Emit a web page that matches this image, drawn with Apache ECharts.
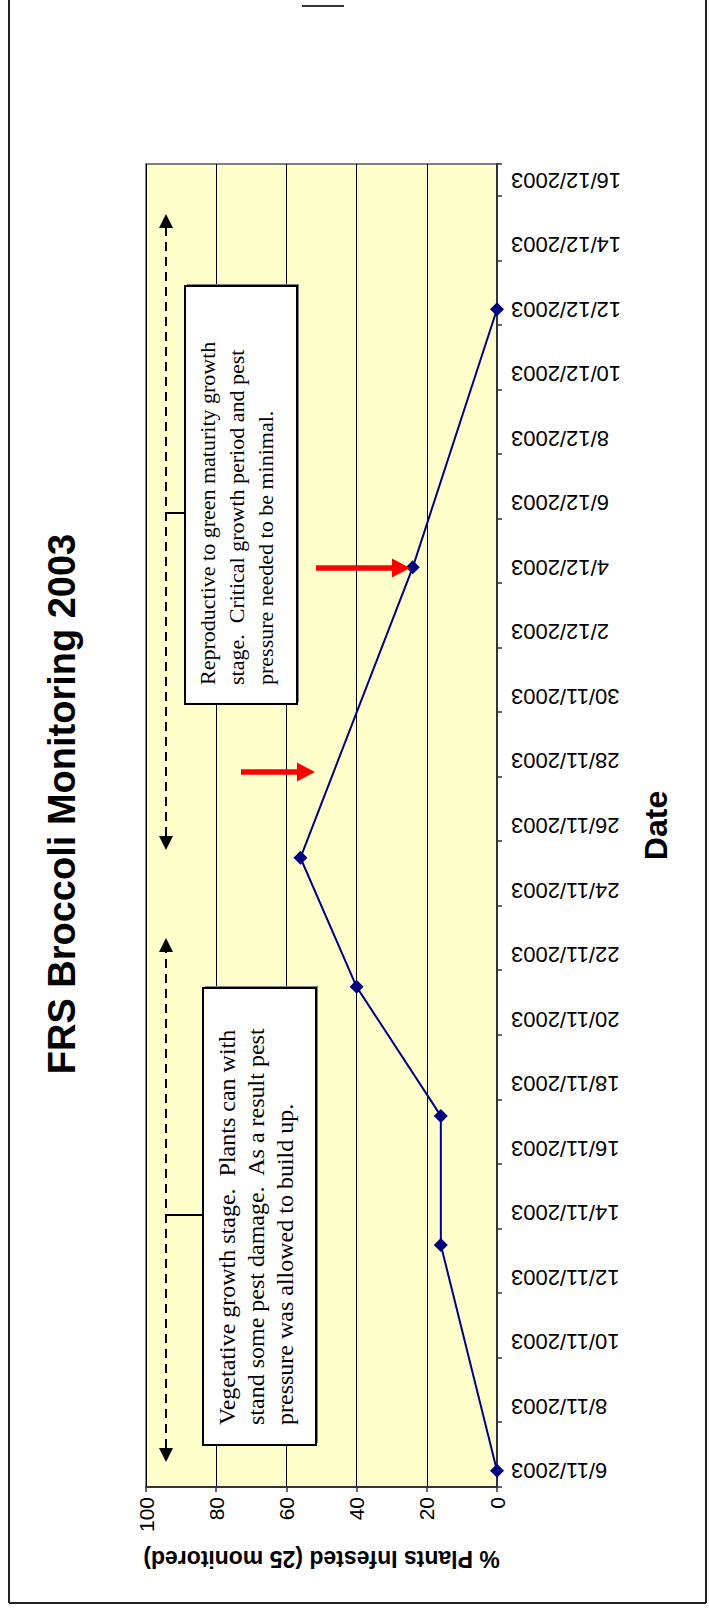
<!DOCTYPE html>
<html>
<head>
<meta charset="utf-8">
<script src="https://cdn.jsdelivr.net/npm/echarts@6/dist/echarts.min.js"></script>
<style>
html, body { margin:0; padding:0; background:#fff; }
#wrap { position:relative; width:709px; height:1608px; overflow:hidden; }
#chart { position:absolute; left:0; top:0; width:1608px; height:709px;
  transform-origin:0 0; transform: translateY(1608px) rotate(-90deg); }
</style>
</head>
<body>
<div id="wrap"><div id="chart"></div></div>
<script>
// ---- data ----
const titleText = 'FRS Broccoli Monitoring 2003';
const xAxisTitle = 'Date';
const yAxisTitle = '% Plants Infested (25 monitored)';
const axisStart = [2003, 11, 6];   // first day on date axis (6/11/2003)
const axisDays = 41;               // 6/11/2003 .. 16/12/2003
const obsDates = ['6/11/2003','13/11/2003','17/11/2003','21/11/2003','25/11/2003','4/12/2003','12/12/2003'];
const pctInfested = [0, 16, 16, 40, 56, 24, 0];
const yTicks = [0, 20, 40, 60, 80, 100];
const note1 = ['Vegetative growth stage.  Plants can with', 'stand some pest damage.  As a result pest', 'pressure was allowed to build up.'];
const note2 = ['Reproductive to green maturity growth', 'stage.  Critical growth period and pest', 'pressure needed to be minimal.'];

// date categories for the axis
const dayCats = [];
for (let i = 0; i < axisDays; i++) {
  const d = new Date(axisStart[0], axisStart[1] - 1, axisStart[2] + i);
  dayCats.push(d.getDate() + '/' + (d.getMonth() + 1) + '/' + d.getFullYear());
}
const seriesData = obsDates.map((d, i) => [d, pctInfested[i]]);

const chart = echarts.init(document.getElementById('chart'), null, { renderer: 'svg' });
const SANS = '"Liberation Sans", Arial, sans-serif';
const SERIF = '"Liberation Serif", "Times New Roman", serif';

function redArrow(x, y0, y1) {
  const head = 18, hw = 9.5, sw = 2.8;
  return { type: 'polygon', z: 50, shape: { points: [
    [x - sw, y0], [x + sw, y0], [x + sw, y1 - head], [x + hw, y1 - head], [x, y1],
    [x - hw, y1 - head], [x - sw, y1 - head]] }, style: { fill: '#FF0000' } };
}
function dashArrow(y, x0, x1) {
  const hl = 14, hw = 7;
  return [
    { type: 'line', z: 50, shape: { x1: x0 + hl, y1: y, x2: x1 - hl, y2: y },
      style: { stroke: '#000', lineWidth: 2, lineDash: [9, 6] } },
    { type: 'polygon', z: 50, shape: { points: [[x0, y], [x0 + hl, y - hw], [x0 + hl, y + hw]] }, style: { fill: '#000' } },
    { type: 'polygon', z: 50, shape: { points: [[x1, y], [x1 - hl, y - hw], [x1 - hl, y + hw]] }, style: { fill: '#000' } }
  ];
}
function noteBox(x, y, w, h, lines, tx, ty, fs) {
  return [
    { type: 'rect', z: 50, shape: { x: x + 2, y: y + 2, width: w, height: h }, style: { fill: '#808080' } },
    { type: 'rect', z: 51, shape: { x: x, y: y, width: w, height: h }, style: { fill: '#fff', stroke: '#000', lineWidth: 2 } },
    { type: 'text', z: 52, x: tx, y: ty, style: { text: lines.join('\n'), font: fs + 'px ' + SERIF, fill: '#000',
      lineHeight: 29, textAlign: 'left', textVerticalAlign: 'top' } }
  ];
}

const graphics = [].concat(
  dashArrow(166, 146, 670),
  dashArrow(166, 758, 1394),
  [{ type: 'line', z: 50, shape: { x1: 393, y1: 166, x2: 393, y2: 203 }, style: { stroke: '#000', lineWidth: 2 } },
   { type: 'line', z: 50, shape: { x1: 1095, y1: 166, x2: 1095, y2: 185 }, style: { stroke: '#000', lineWidth: 2 } }],
  noteBox(163, 203, 457, 113, note1, 183, 212, 24),
  noteBox(904, 185, 418, 112, note2, 923, 193, 22),
  [redArrow(836, 241, 315), redArrow(1040, 316, 410)],
  // page frame
  [{ type: 'line', shape: { x1: 5, y1: 9, x2: 1608, y2: 9 }, style: { stroke: '#222', lineWidth: 2 } },
   { type: 'line', shape: { x1: 5, y1: 9, x2: 5, y2: 706 }, style: { stroke: '#222', lineWidth: 2 } },
   { type: 'line', shape: { x1: 5, y1: 706, x2: 1608, y2: 706 }, style: { stroke: '#222', lineWidth: 2 } },
   { type: 'line', shape: { x1: 1602, y1: 302, x2: 1602, y2: 344 }, style: { stroke: '#333', lineWidth: 2 } }]
);

chart.setOption({
  animation: false,
  backgroundColor: '#fff',
  title: { text: titleText, left: 'center', top: 38,
    textStyle: { fontFamily: SANS, fontSize: 38, fontWeight: 'bold', color: '#000' } },
  grid: { left: 121, top: 146, width: 1323, height: 351, show: true,
    backgroundColor: '#FFFFCC', borderColor: '#808080', borderWidth: 2 },
  xAxis: {
    type: 'category', data: dayCats, boundaryGap: true,
    name: xAxisTitle, nameLocation: 'middle', nameGap: 143,
    nameTextStyle: { fontFamily: SANS, fontSize: 32, fontWeight: 'bold', color: '#000' },
    axisLine: { show: true, lineStyle: { color: '#333', width: 2 } },
    axisTick: { show: true, interval: 1, length: 5, inside: false, lineStyle: { color: '#333', width: 1.5 } },
    axisLabel: { interval: 1, rotate: 90, margin: 14, fontFamily: SANS, fontSize: 22, color: '#000' },
    splitLine: { show: false }
  },
  yAxis: {
    type: 'value', min: yTicks[0], max: yTicks[yTicks.length - 1], interval: 20,
    name: yAxisTitle, nameLocation: 'middle', nameRotate: 90, nameGap: 60,
    nameTextStyle: { fontFamily: SANS, fontSize: 23, fontWeight: 'bold', color: '#000' },
    axisLine: { show: true, lineStyle: { color: '#333', width: 2 } },
    axisTick: { show: true, length: 5, inside: false, lineStyle: { color: '#333', width: 1.5 } },
    axisLabel: { margin: 10, fontFamily: SANS, fontSize: 21, color: '#000' },
    splitLine: { show: true, lineStyle: { color: '#000', width: 1 } }
  },
  series: [{
    type: 'line', data: seriesData, z: 10,
    symbol: 'diamond', symbolSize: 14, showSymbol: true,
    lineStyle: { color: '#000080', width: 2 },
    itemStyle: { color: '#000080' }
  }],
  graphic: graphics
});
</script>
</body>
</html>
